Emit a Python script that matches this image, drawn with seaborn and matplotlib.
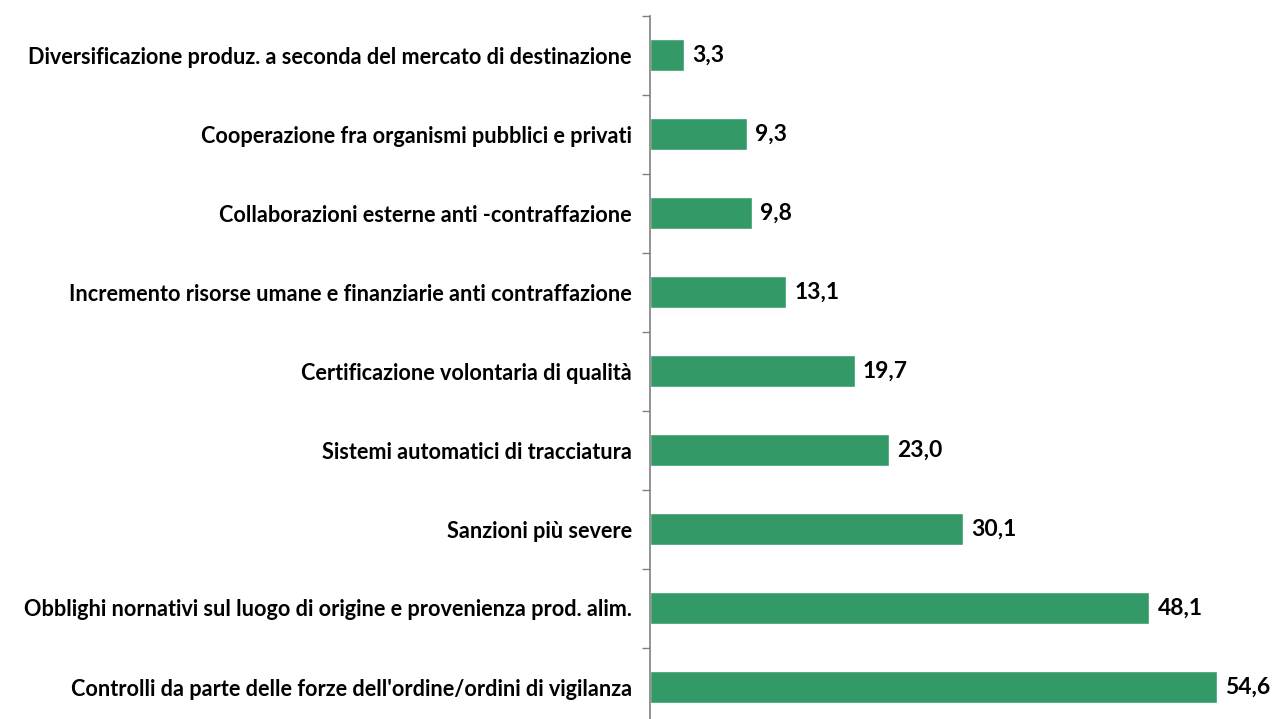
import matplotlib
matplotlib.use("Agg")
import matplotlib.pyplot as plt
import seaborn as sns
import pandas as pd

categories = [
    "Diversificazione produz. a seconda del mercato di destinazione",
    "Cooperazione fra organismi pubblici e privati",
    "Collaborazioni esterne anti -contraffazione",
    "Incremento risorse umane e finanziarie anti contraffazione",
    "Certificazione volontaria di qualità",
    "Sistemi automatici di tracciatura",
    "Sanzioni più severe",
    "Obblighi nornativi sul luogo di origine e provenienza prod. alim.",
    "Controlli da parte delle forze dell'ordine/ordini di vigilanza",
]
values = [3.3, 9.3, 9.8, 13.1, 19.7, 23.0, 30.1, 48.1, 54.6]

df = pd.DataFrame({"cat": categories, "val": values})

sns.set_style("white")
plt.rcParams["font.family"] = ["Lato", "DejaVu Sans"]

fig = plt.figure(figsize=(12.72, 7.19), dpi=100)
ax = fig.add_axes([650 / 1272, -7.5 / 719, 1 - 650 / 1272, (711.0) / 719])

sns.barplot(data=df, x="val", y="cat", orient="h", color="#339966",
            saturation=1, width=0.41, ax=ax)

ax.set_xlim(0, 59.9)
ax.set_ylim(8.5, -0.5)
ax.set_xlabel("")
ax.set_ylabel("")
ax.set_xticks([])
ax.set_yticks([i - 0.5 for i in range(len(categories) + 1)], minor=False)
ax.set_yticklabels([])
ax.set_yticks(range(len(categories)), minor=True)
ax.set_yticklabels(categories, minor=True, fontsize=15.6, fontweight="bold",
                   color="black")
ax.tick_params(axis="y", which="major", direction="out", length=6, width=1,
               color="#808080", left=True)
ax.tick_params(axis="y", which="minor", length=0, pad=13)

for s in ["top", "right", "bottom"]:
    ax.spines[s].set_visible(False)
ax.spines["left"].set_color("#808080")
ax.spines["left"].set_linewidth(1.2)

for c in ax.containers:
    ax.bar_label(c, labels=[f"{v:.1f}".replace(".", ",") for v in values],
                 padding=6, fontsize=16.5, fontweight="bold", color="black")

fig.savefig("out.png", dpi=100)
